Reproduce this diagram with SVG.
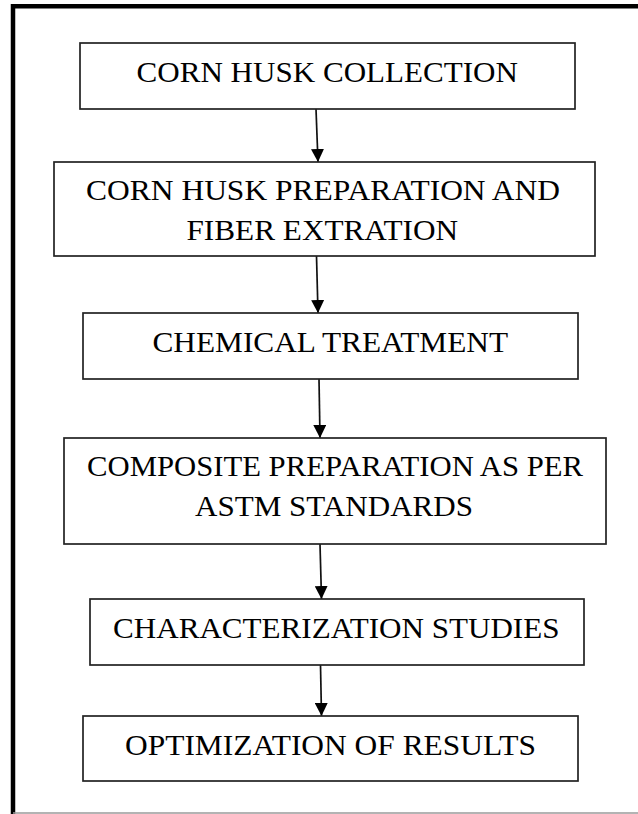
<svg xmlns="http://www.w3.org/2000/svg" width="638" height="814" viewBox="0 0 638 814">
  <style>
    .box { fill: #ffffff; stroke: #222222; stroke-width: 1.7; }
    .lbl { font-family: "Liberation Serif", "Times New Roman", serif; font-size: 29px; fill: #000000; }
    .conn { stroke: #111111; stroke-width: 1.7; fill: none; }
  </style>
  <defs>
    <marker id="arrow" viewBox="0 0 13 13" refX="13" refY="6.5" markerWidth="13" markerHeight="13" markerUnits="userSpaceOnUse" orient="auto">
      <path d="M0,0 L13,6.5 L0,13 z" fill="#000000"/>
    </marker>
  </defs>
  <rect x="0" y="0" width="638" height="814" fill="#ffffff"/>
  <g id="frame">
    <path d="M638,6.2 H13 V814" fill="none" stroke="#000000" stroke-width="4.5"/>
    <line x1="13" y1="813" x2="638" y2="813" stroke="#9a9a9a" stroke-width="1.5"/>
  </g>
  <g id="connectors">
    <line class="conn" x1="316" y1="109" x2="318" y2="162" marker-end="url(#arrow)"/>
    <line class="conn" x1="316.5" y1="256" x2="318" y2="313" marker-end="url(#arrow)"/>
    <line class="conn" x1="319" y1="379" x2="320" y2="438" marker-end="url(#arrow)"/>
    <line class="conn" x1="320" y1="544" x2="321.5" y2="599" marker-end="url(#arrow)"/>
    <line class="conn" x1="320.5" y1="665" x2="321.5" y2="716" marker-end="url(#arrow)"/>
  </g>
  <g id="node1">
    <rect class="box" x="80" y="43" width="495" height="66"/>
    <text class="lbl" x="136.5" y="82" textLength="381.5" lengthAdjust="spacingAndGlyphs">CORN HUSK COLLECTION</text>
  </g>
  <g id="node2">
    <rect class="box" x="54" y="162" width="541" height="94"/>
    <text class="lbl" x="86" y="200" textLength="474" lengthAdjust="spacingAndGlyphs">CORN HUSK PREPARATION AND</text>
    <text class="lbl" x="186.5" y="240" textLength="271.5" lengthAdjust="spacingAndGlyphs">FIBER EXTRATION</text>
  </g>
  <g id="node3">
    <rect class="box" x="83" y="313" width="495" height="66"/>
    <text class="lbl" x="152.5" y="351.5" textLength="355.5" lengthAdjust="spacingAndGlyphs">CHEMICAL TREATMENT</text>
  </g>
  <g id="node4">
    <rect class="box" x="64" y="438" width="542" height="106"/>
    <text class="lbl" x="87" y="475.5" textLength="496" lengthAdjust="spacingAndGlyphs">COMPOSITE PREPARATION AS PER</text>
    <text class="lbl" x="195" y="515.5" textLength="278" lengthAdjust="spacingAndGlyphs">ASTM STANDARDS</text>
  </g>
  <g id="node5">
    <rect class="box" x="90" y="599" width="494" height="66"/>
    <text class="lbl" x="113" y="637.5" textLength="446.5" lengthAdjust="spacingAndGlyphs">CHARACTERIZATION STUDIES</text>
  </g>
  <g id="node6">
    <rect class="box" x="83" y="716" width="495" height="65"/>
    <text class="lbl" x="125" y="754.5" textLength="411" lengthAdjust="spacingAndGlyphs">OPTIMIZATION OF RESULTS</text>
  </g>
</svg>
